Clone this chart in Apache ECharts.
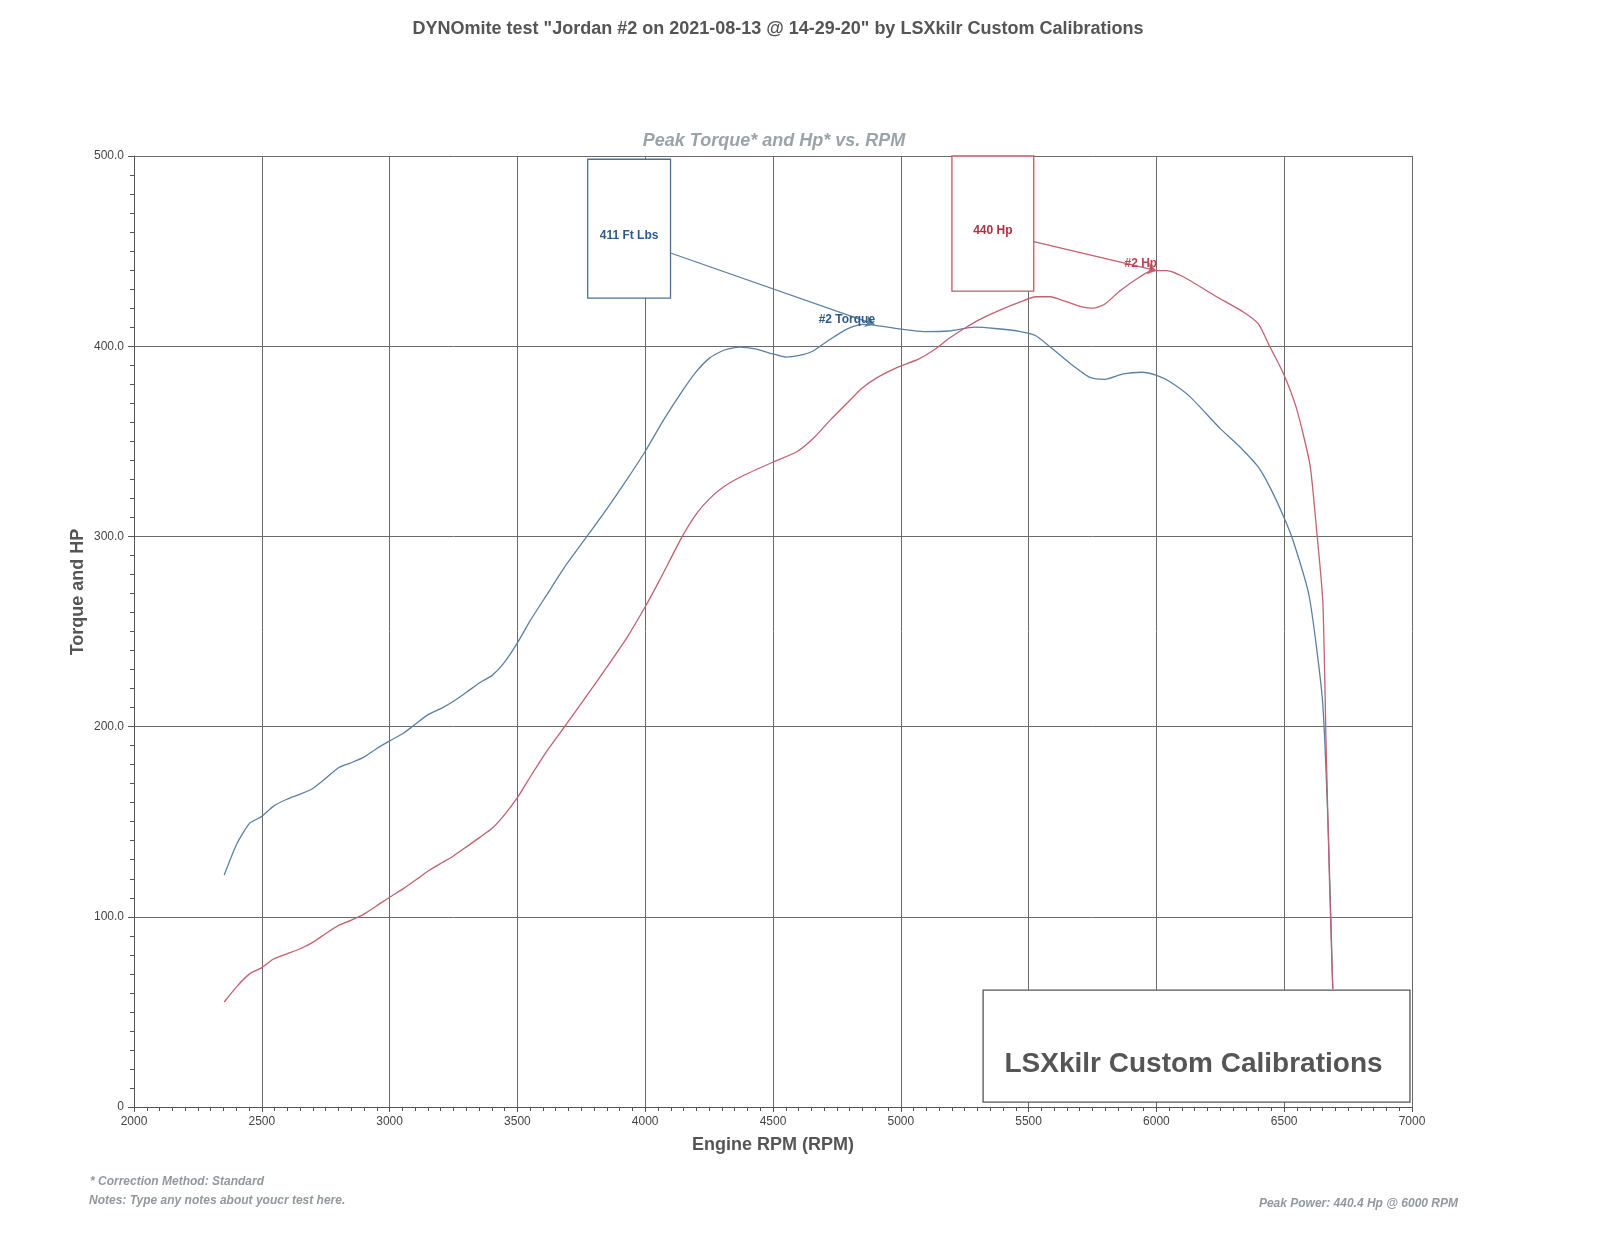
<!DOCTYPE html>
<html>
<head>
<meta charset="utf-8">
<script src="https://cdn.jsdelivr.net/npm/echarts@6/dist/echarts.min.js"></script>
<style>
  html, body { margin: 0; padding: 0; background: #fff; }
  #main { width: 1600px; height: 1235px; }
</style>
</head>
<body>
<div id="main"></div>
<script>
// values
var torque = [
  [2353, 122.0], [2402, 138.3], [2452, 149.1], [2500, 152.8], [2546, 158.2], [2598, 161.8],
  [2650, 164.5], [2696, 167.2], [2748, 172.6], [2800, 178.4], [2846, 180.8], [2898, 183.8],
  [2950, 188.5], [3000, 192.5], [3054, 196.5], [3100, 201.2], [3152, 206.4], [3204, 209.7],
  [3250, 213.3], [3302, 218.2], [3354, 223.2], [3400, 226.8], [3446, 233.2], [3500, 244.0],
  [3550, 255.7], [3615, 269.3], [3693, 285.5], [3772, 300], [3850, 314.5], [3928, 329.8],
  [3999, 344.5], [4071, 361], [4143, 376], [4199, 386.5], [4254, 394], [4310, 398],
  [4370, 399.5], [4430, 398.6], [4498, 396], [4550, 394.3], [4598, 395], [4657, 397.5],
  [4721, 403.4], [4789, 409], [4849, 411.5], [4900, 411], [4949, 410], [5009, 408.8],
  [5089, 407.7], [5188, 408], [5288, 410], [5368, 409.3], [5468, 407.7], [5528, 405.5],
  [5584, 399.7], [5662, 391], [5740, 383.6], [5799, 382.6], [5870, 385.4], [5942, 386.3],
  [6001, 384.7], [6053, 381.3], [6131, 373.5], [6249, 356.8], [6327, 347], [6399, 336.4],
  [6444, 325.9], [6497, 310.6], [6535, 297.7], [6598, 268.4], [6650, 213.4], [6673, 143],
  [6690, 62]
];
var hp = [
  [2353, 55.2], [2402, 63.3], [2452, 70.0], [2500, 73.3], [2546, 77.8], [2598, 80.5],
  [2650, 83.2], [2696, 86.3], [2748, 91.0], [2800, 95.5], [2846, 98.0], [2898, 101.3],
  [2950, 105.8], [3000, 110.3], [3054, 114.8], [3106, 119.7], [3152, 124.2], [3204, 128.4],
  [3250, 132.0], [3302, 136.9], [3354, 141.9], [3400, 146.4], [3446, 153.1], [3500, 162.7],
  [3550, 173.5], [3615, 187.1], [3693, 201.5], [3772, 216.4], [3850, 231.3], [3928, 246.7],
  [4000, 263.0], [4058, 277.4], [4143, 299.5], [4201, 312], [4253, 320], [4306, 326],
  [4384, 332], [4499, 339], [4593, 344.5], [4658, 351.6], [4723, 361], [4789, 370],
  [4849, 378], [4909, 383.6], [4989, 389], [5069, 393.2], [5129, 398], [5188, 404],
  [5248, 409.3], [5308, 414], [5388, 419], [5468, 423.3], [5528, 426], [5584, 426],
  [5650, 423.3], [5714, 420.5], [5753, 420], [5799, 422.2], [5858, 429.2], [5936, 436.5],
  [5981, 439.7], [6040, 439.7], [6105, 436.5], [6236, 426], [6340, 418], [6399, 411.7],
  [6444, 399.7], [6497, 385.7], [6549, 366.9], [6601, 337.5], [6627, 303], [6651, 266],
  [6664, 190], [6677, 119.6], [6690, 62]
];

var peakTorqueText = '411 Ft Lbs';
var peakHpText = '440 Hp';
var peakTorqueAt = [4897, 411.5];
var peakHpAt = [6000, 439.7];

var font = 'Liberation Sans, Arial, sans-serif';
var blue = '#5b80a3';
var red = '#c2616f';

var myChart = echarts.init(document.getElementById('main'));
myChart.setOption({
  backgroundColor: '#fff',
  animation: false,
  textStyle: { fontFamily: font },
  title: [{
    text: 'DYNOmite test "Jordan #2 on 2021-08-13 @ 14-29-20" by LSXkilr Custom Calibrations',
    left: 773, top: 15, textAlign: 'center',
    textStyle: { fontSize: 18, fontWeight: 'bold', color: '#555', fontFamily: font }
  }, {
    text: 'Peak Torque* and Hp* vs. RPM',
    left: 769, top: 127, textAlign: 'center',
    textStyle: { fontSize: 18, fontWeight: 'bold', fontStyle: 'italic', color: '#99a3a8', fontFamily: font }
  }, {
    text: '* Correction Method: Standard',
    left: 85, top: 1171,
    textStyle: { fontSize: 12, fontWeight: 'bold', fontStyle: 'italic', color: '#8f999e', fontFamily: font }
  }, {
    text: 'Notes: Type any notes about youcr test here.',
    left: 84, top: 1190,
    textStyle: { fontSize: 12, fontWeight: 'bold', fontStyle: 'italic', color: '#8f999e', fontFamily: font }
  }, {
    text: 'Peak Power: 440.4 Hp @ 6000 RPM',
    left: 1453, top: 1193, textAlign: 'right',
    textStyle: { fontSize: 12, fontWeight: 'bold', fontStyle: 'italic', color: '#8f999e', fontFamily: font }
  }],
  graphic: [{
    type: 'text',
    x: 78, y: 592, rotation: Math.PI / 2,
    style: {
      text: 'Torque and HP', fill: '#555', font: 'bold 18px ' + font,
      textAlign: 'center', textVerticalAlign: 'middle'
    }
  }],
  grid: { left: 134, right: 188, top: 156, bottom: 128 },
  xAxis: {
    type: 'value', min: 2000, max: 7000, interval: 500,
    name: 'Engine RPM (RPM)', nameLocation: 'middle', nameGap: 29,
    nameTextStyle: { fontSize: 18, fontWeight: 'bold', color: '#555', fontFamily: font },
    axisLine: { show: true, lineStyle: { color: '#555', width: 1 } },
    axisTick: { show: true, length: 5, lineStyle: { color: '#555' } },
    minorTick: { show: true, splitNumber: 10, length: 4, lineStyle: { color: '#555' } },
    axisLabel: {
      fontSize: 12, color: '#444', margin: 9, fontFamily: font,
      formatter: function (v) { return String(v); }
    },
    splitLine: { show: true, lineStyle: { color: '#6a6a6a', width: 1 } }
  },
  yAxis: {
    type: 'value', min: 0, max: 500, interval: 100,
    axisLine: { show: true, lineStyle: { color: '#555', width: 1 } },
    axisTick: { show: true, length: 6, lineStyle: { color: '#555' } },
    minorTick: { show: true, splitNumber: 10, length: 4, lineStyle: { color: '#555' } },
    axisLabel: {
      fontSize: 12, color: '#444', margin: 10, fontFamily: font,
      formatter: function (v) { return v === 0 ? '0' : v.toFixed(1); }
    },
    splitLine: { show: true, lineStyle: { color: '#6a6a6a', width: 1 } }
  },
  series: [{
    name: '#2 Torque',
    type: 'line',
    data: torque,
    smooth: 0.2,
    showSymbol: false,
    lineStyle: { color: blue, width: 1.3 },
    markArea: {
      silent: true,
      itemStyle: { color: '#fff', borderColor: '#4f7191', borderWidth: 1.3 },
      label: { show: true, position: 'inside', fontSize: 12, fontWeight: 'bold', color: '#2f5b8c', fontFamily: font, offset: [0, 7] },
      data: [
        [{ coord: [3775, 498.3], name: peakTorqueText }, { coord: [4099, 425.3] }],
        [{ coord: [5322, 61.5], name: 'LSXkilr Custom Calibrations',
           itemStyle: { borderColor: '#555' },
           label: { fontSize: 28, color: '#555', offset: [-3, 18] } },
         { coord: [6992, 2.6] }]
      ]
    },
    markLine: {
      silent: true,
      symbol: ['none', 'arrow'], symbolSize: 9,
      lineStyle: { color: blue, width: 1.2, type: 'solid' },
      label: { show: false },
      data: [[{ coord: [4099, 449] }, { coord: peakTorqueAt }]]
    },
    markPoint: {
      silent: true,
      symbol: 'circle', symbolSize: 0,
      label: { show: true, fontSize: 12, fontWeight: 'bold', color: '#2f5b8c', fontFamily: font, formatter: '{b}' },
      data: [{ name: '#2 Torque', coord: [4789, 414.2] }]
    }
  }, {
    name: '#2 Hp',
    type: 'line',
    data: hp,
    smooth: 0.2,
    showSymbol: false,
    lineStyle: { color: red, width: 1.3 },
    markArea: {
      silent: true,
      itemStyle: { color: '#fff', borderColor: '#c35865', borderWidth: 1.3 },
      label: { show: true, position: 'inside', fontSize: 12, fontWeight: 'bold', color: '#b3303f', fontFamily: font, offset: [0, 7] },
      data: [[{ coord: [5200, 500], name: peakHpText }, { coord: [5520, 429] }]]
    },
    markLine: {
      silent: true,
      symbol: ['none', 'arrow'], symbolSize: 9,
      lineStyle: { color: red, width: 1.2, type: 'solid' },
      label: { show: false },
      data: [[{ coord: [5520, 455] }, { coord: peakHpAt }]]
    },
    markPoint: {
      silent: true,
      symbol: 'circle', symbolSize: 0,
      label: { show: true, fontSize: 12, fontWeight: 'bold', color: '#c2434f', fontFamily: font, formatter: '{b}' },
      data: [{ name: '#2 Hp', coord: [5939, 443.2] }]
    }
  }]
});
</script>
</body>
</html>
